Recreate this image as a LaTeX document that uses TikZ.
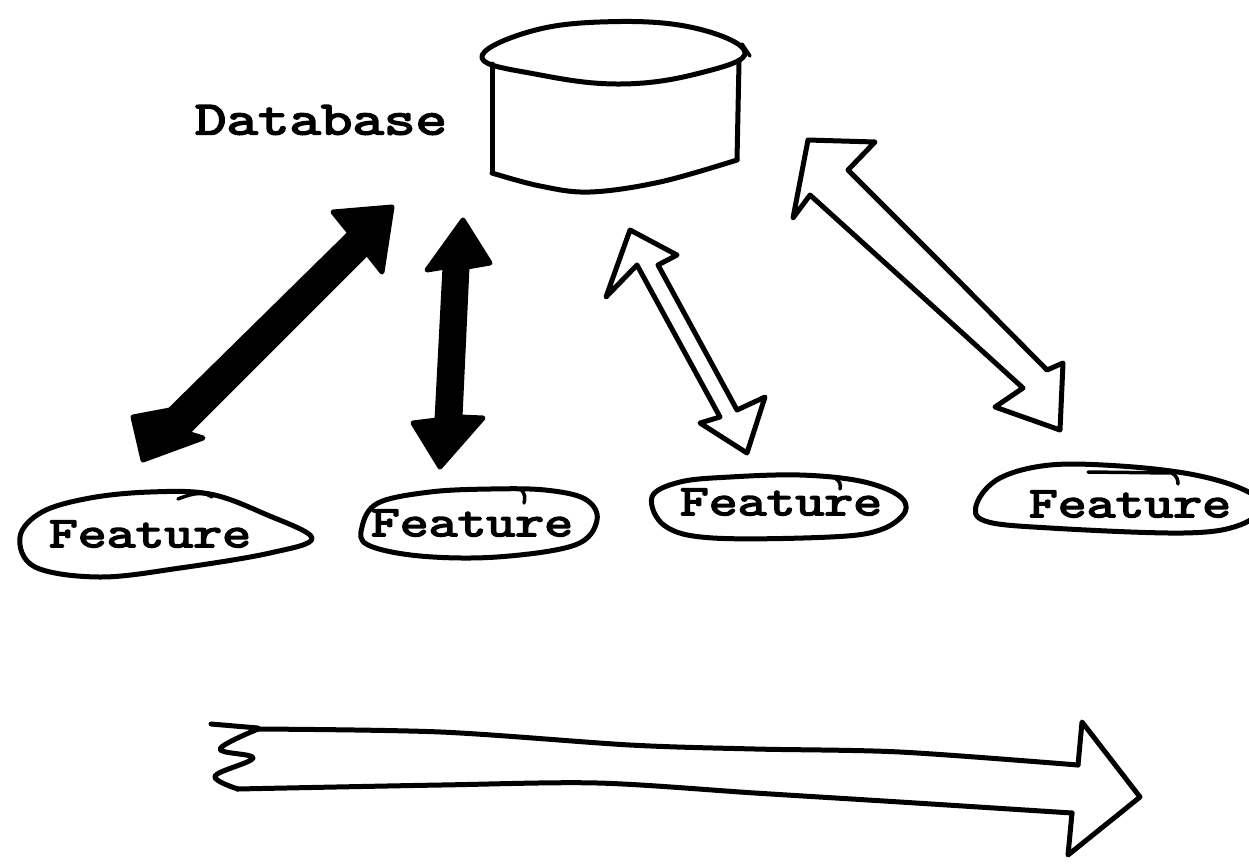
\documentclass[tikz,border=0pt]{standalone}
\usepackage{fontspec}
\newfontfamily\sketchmono{lmmono10-regular}[Extension=.otf, FakeBold=3]
\begin{document}
\begin{tikzpicture}[x=1pt,y=-1pt,
  sk/.style={line width=5pt, line join=round, line cap=round},
  thinsk/.style={line width=3.5pt, line join=round, line cap=round},
  solidarrow/.style={sk, fill=black},
  hollowarrow/.style={sk, fill=white},
  featlbl/.style={font=\sketchmono\fontsize{44}{48}\selectfont, inner sep=0pt},
  dblbl/.style={font=\sketchmono\fontsize{48}{52}\selectfont, inner sep=0pt}]
\useasboundingbox (0,0) rectangle (1249,865);

% ---------- Database cylinder ----------
\node[minimum width=255pt, minimum height=170pt, inner sep=0pt] (db) at (615,105) {};
\draw[sk] plot[smooth cycle, tension=0.7] coordinates {(482,58) (525,33) (600,22) (690,27) (745,52) (700,73) (620,84) (535,74)};
\draw[thinsk] (742,44) -- (750,56);
\draw[sk] (492,64) -- (492,173);
\draw[sk] (739,62) -- (737,160);
\draw[sk] plot[smooth, tension=0.6] coordinates {(492,173) (540,186) (590,192) (660,182) (737,160)};
\node[dblbl] (dblabel) at (321,120) {\scalebox{1.25}[1]{Database}};

% ---------- Features ----------
\node[featlbl] (f1) at (150,534) {\scalebox{1.25}[1]{Feature}};
\node[featlbl] (f2) at (472,523) {\scalebox{1.25}[1]{Feature}};
\node[featlbl] (f3) at (781,502) {\scalebox{1.25}[1]{Feature}};
\node[featlbl] (f4) at (1130,504) {\scalebox{1.25}[1]{Feature}};

\draw[sk] plot[smooth cycle, tension=0.6] coordinates {(20,537) (42,512) (90,498) (150,492) (210,494) (265,514) (312,538) (270,553) (180,568) (100,577) (35,567)};
\draw[thinsk] (178,499) .. controls (195,492) and (205,492) .. (212,497);
\draw[sk] plot[smooth cycle, tension=0.6] coordinates {(362,527) (378,503) (430,492) (490,489) (545,490) (585,499) (597,520) (575,545) (497,557) (420,556) (368,545)};
\draw[thinsk] (520,489) .. controls (526,493) and (525,499) .. (524,503);
\draw[sk] plot[smooth cycle, tension=0.6] coordinates {(652,497) (680,482) (730,477) (800,475) (860,481) (898,495) (905,512) (880,530) (830,537) (713,538) (665,526)};
\draw[thinsk] (835,478) .. controls (840,481) and (841,485) .. (840,489);
\draw[sk] plot[smooth cycle, tension=0.6] coordinates {(977,503) (1000,478) (1050,465) (1120,466) (1190,474) (1240,488) (1262,505) (1240,525) (1183,533) (1050,528) (985,521)};
\draw[thinsk] (1088,472) -- (1172,473) .. controls (1177,476) and (1178,480) .. (1178,484);

% ---------- connectors ----------
\coordinate (a1t) at (392,207);
\coordinate (a1b) at (143,460);
\draw[solidarrow] (a1t) -- (382,272) -- (367,253) -- (187,433) -- (203,438) -- (a1b) -- (133,417) -- (170,410) -- (350,233) -- (333,212) -- cycle;
\coordinate (a2t) at (463,220);
\coordinate (a2b) at (440,467);
\draw[solidarrow] (a2t) -- (490,263) -- (467,267) -- (460,417) -- (483,418) -- (a2b) -- (413,423) -- (437,420) -- (445,267) -- (427,270) -- cycle;
\coordinate (a3t) at (630,230);
\coordinate (a3b) at (747,453);
\draw[hollowarrow] (a3t) -- (677,255) -- (658,265) -- (737,410) -- (765,397) -- (a3b) -- (700,423) -- (720,417) -- (637,265) -- (606,297) -- cycle;
\coordinate (a4t) at (808,140);
\coordinate (a4b) at (1060,430);
\draw[hollowarrow] (a4t) -- (875,142) -- (848,170) -- (940,262) -- (1047,370) -- (1063,363) -- (a4b) -- (995,407) -- (1023,388) -- (915,290) -- (810,195) -- (793,218) -- cycle;

% ---------- bottom big arrow ----------
\coordinate (bt) at (1140,797);
\draw[sk] (211,724) -- (258,728);
\draw[sk] plot[smooth, tension=0.5] coordinates {(258,729) (441,732) (630,745) (755,749) (900,752) (1078,765)};
\draw[sk] (1078,765) -- (1082,722) -- (bt) -- (1068,855) -- (1072,813);
\draw[sk] plot[smooth, tension=0.5] coordinates {(1072,813) (900,802) (755,793) (598,783) (441,785) (237,789)};
\draw[sk] plot[smooth, tension=0.6] coordinates {(258,729) (220,749) (253,758) (215,776) (238,789)};
\end{tikzpicture}
\end{document}
